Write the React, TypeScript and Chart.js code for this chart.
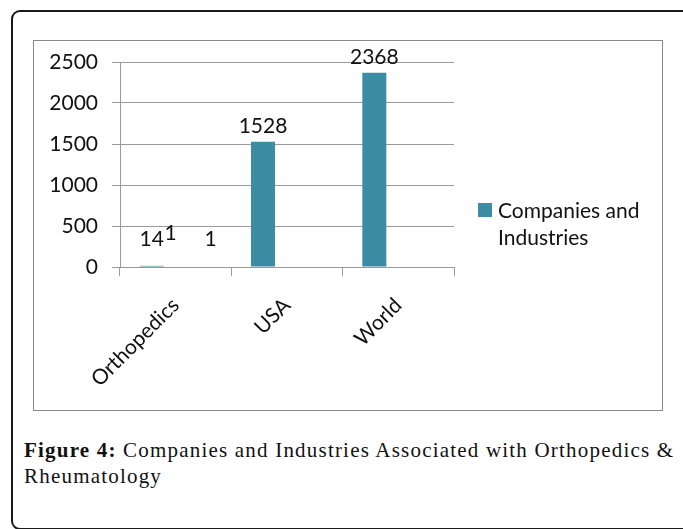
import React, { useEffect, useRef } from "react";
import { Chart, registerables } from "chart.js";

Chart.register(...registerables);

const categories = ["Orthopedics", "USA", "World"];
const seriesName = "Companies and Industries";
const legendLines = ["Companies and", "Industries"];
const companiesValues = [14, 1528, 2368];
const extraValuesA = [1, null, null];
const extraValuesB = [1, null, null];
const yMin = 0;
const yMax = 2500;
const yStep = 500;

const BAR_COLOR = "#3c8ca4";
const GRID_COLOR = "#9a9a9a";
const FONT = "Lato, 'Open Sans', sans-serif";

const labelOffsets = [
  { dx: 0, dy: 0 },
  { dx: -5, dy: -6 },
  { dx: 11, dy: 0 },
];

const labelPlugin = {
  id: "barLabels",
  afterDatasetsDraw(chart: any) {
    const ctx = chart.ctx;
    const zeroY = chart.scales.y.getPixelForValue(0);
    const area = chart.chartArea;
    ctx.save();
    // keep the axis line on top of tiny bars
    ctx.strokeStyle = GRID_COLOR;
    ctx.lineWidth = 1;
    ctx.beginPath();
    ctx.moveTo(area.left, Math.round(zeroY) + 0.5);
    ctx.lineTo(area.right, Math.round(zeroY) + 0.5);
    ctx.stroke();
    ctx.font = `21px ${FONT}`;
    ctx.fillStyle = "#111";
    ctx.textAlign = "center";
    ctx.textBaseline = "alphabetic";
    chart.data.datasets.forEach((ds: any, di: number) => {
      const meta = chart.getDatasetMeta(di);
      const off = labelOffsets[di] || { dx: 0, dy: 0 };
      meta.data.forEach((el: any, i: number) => {
        const v = ds.data[i];
        if (v == null) return;
        const y = Math.min(el.y - 9, zeroY - 21) + off.dy;
        ctx.fillText(String(v), el.x + off.dx, y);
      });
    });
    ctx.restore();
  },
};

const legendPlugin = {
  id: "sideLegend",
  afterDraw(chart: any) {
    const ctx = chart.ctx;
    const area = chart.chartArea;
    const x0 = area.right + 24;
    const y0 = 162;
    ctx.save();
    ctx.fillStyle = chart.data.datasets[0].backgroundColor;
    ctx.fillRect(x0, y0, 14, 14);
    ctx.font = `21px ${FONT}`;
    ctx.fillStyle = "#111";
    ctx.textAlign = "left";
    ctx.textBaseline = "alphabetic";
    legendLines.forEach((line, i) => {
      ctx.fillText(line, x0 + 20, y0 + 15 + i * 27);
    });
    ctx.restore();
  },
};

function BarChart() {
  const ref = useRef<HTMLCanvasElement | null>(null);
  useEffect(() => {
    if (!ref.current) return;
    const chart = new Chart(ref.current, {
      type: "bar",
      data: {
        labels: categories,
        datasets: [
          {
            label: seriesName,
            data: companiesValues,
            backgroundColor: BAR_COLOR,
            categoryPercentage: 0.647,
            barPercentage: 1,
          },
          {
            label: "",
            data: extraValuesA as any,
            backgroundColor: "rgba(0,0,0,0)",
            categoryPercentage: 0.647,
            barPercentage: 1,
          },
          {
            label: "",
            data: extraValuesB as any,
            backgroundColor: "rgba(0,0,0,0)",
            categoryPercentage: 0.647,
            barPercentage: 1,
          },
        ],
      },
      options: {
        responsive: false,
        animation: false,
        layout: { padding: { top: 21, right: 208, left: 0, bottom: 0 } },
        plugins: {
          legend: { display: false },
          tooltip: { enabled: false },
        },
        scales: {
          x: {
            afterFit: (s: any) => {
              s.height = 143;
            },
            grid: {
              display: true,
              drawOnChartArea: false,
              drawTicks: true,
              tickLength: 9,
              color: GRID_COLOR,
              offset: true,
            },
            border: { display: true, color: GRID_COLOR },
            ticks: {
              maxRotation: 45,
              minRotation: 45,
              color: "#111",
              font: { family: FONT, size: 21 },
              padding: 17,
            },
          },
          y: {
            min: yMin,
            max: yMax,
            afterFit: (s: any) => {
              s.width = 86;
              s.paddingTop = 0;
              s.paddingBottom = 0;
            },
            grid: {
              color: GRID_COLOR,
              drawTicks: true,
              tickLength: 8,
            },
            border: { display: true, color: GRID_COLOR },
            ticks: {
              stepSize: yStep,
              color: "#111",
              font: { family: FONT, size: 21 },
              padding: 14,
              callback: (v: any) => String(v),
            },
          },
        },
      },
      plugins: [labelPlugin, legendPlugin],
    });
    return () => chart.destroy();
  }, []);
  return (
    <canvas
      ref={ref}
      width={628}
      height={369}
      style={{ position: "absolute", left: 34, top: 41, width: 628, height: 369 }}
    />
  );
}

export default function App() {
  return (
    <div
      style={{
        position: "absolute",
        left: 0,
        top: 0,
        width: 683,
        height: 529,
        overflow: "hidden",
        background: "#fff",
      }}
    >
      <div
        style={{
          position: "absolute",
          left: 11,
          top: 10,
          width: 690,
          height: 516,
          border: "2px solid #1a1a1a",
          borderRadius: 9,
        }}
      />
      <div
        style={{
          position: "absolute",
          left: 33,
          top: 40,
          width: 628,
          height: 369,
          border: "1px solid #8a8a8a",
        }}
      />
      <BarChart />
      <div
        style={{
          position: "absolute",
          left: 24,
          top: 437,
          fontFamily: "'Liberation Serif', serif",
          fontSize: 21,
          lineHeight: "26px",
          letterSpacing: "1.2px",
          color: "#111",
          whiteSpace: "nowrap",
        }}
      >
        <div>
          <b>Figure 4:</b> Companies and Industries Associated with Orthopedics &amp;
        </div>
        <div>Rheumatology</div>
      </div>
    </div>
  );
}
